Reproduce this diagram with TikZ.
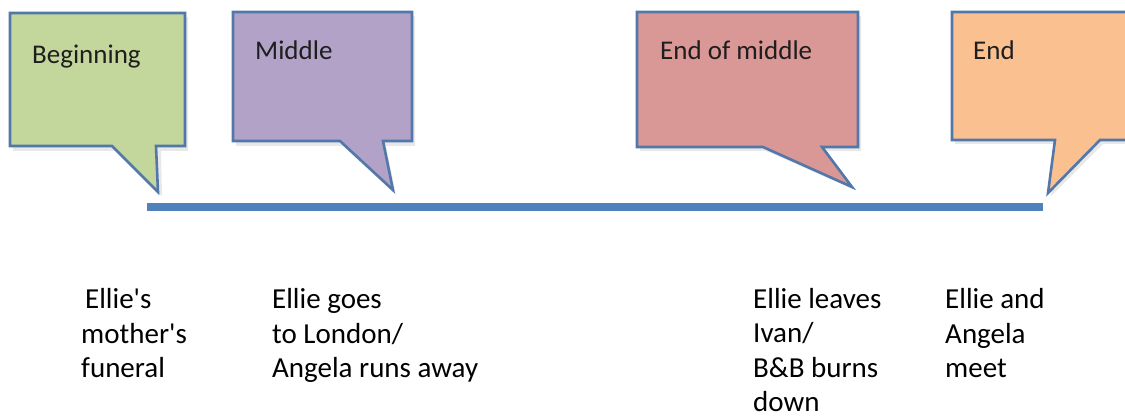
\documentclass[tikz,border=0pt]{standalone}
\usepackage{fontspec}
\setmainfont{Carlito}
\definecolor{cgreen}{HTML}{C3D69B}
\definecolor{cpurple}{HTML}{B3A2C7}
\definecolor{cred}{HTML}{D99795}
\definecolor{corange}{HTML}{FAC090}
\definecolor{cborder}{HTML}{5277AA}
\definecolor{cline}{HTML}{4F81BD}
\definecolor{ctext}{HTML}{1E1E1E}
\begin{document}
\begin{tikzpicture}[x=1pt,y=-1pt,
  callout/.style={draw=cborder,line width=2.6pt,line join=miter},
  shade/.style={fill=black,opacity=0.09},
  head/.style={anchor=base west,inner sep=0pt,text=ctext,font=\fontsize{27}{32}\selectfont},
  event/.style={anchor=base west,inner sep=0pt,align=left,text=black,font=\fontsize{29}{34.5}\selectfont}]
\useasboundingbox (0,0) rectangle (1125,419);
\begin{scope}
\clip (0,0) rectangle (1125,419);
% shadows
\fill[shade] (13,17) -- (188,17) -- (188,151) -- (161,151) -- (162,196) -- (116,151) -- (13,151) -- cycle;
\fill[shade] (236,16) -- (415,16) -- (415,146) -- (386,146) -- (396,195) -- (343,146) -- (236,146) -- cycle;
\fill[shade] (640,16) -- (861,16) -- (861,151) -- (825,151) -- (855,190) -- (766,151) -- (640,151) -- cycle;
\fill[shade] (955,16) -- (1140,16) -- (1140,144) -- (1103,144) -- (1051,196) -- (1058,144) -- (955,144) -- cycle;
% callouts
\draw[callout,fill=cgreen] (10,13) -- (185,13) -- (185,146) -- (156,146) -- (158,192) -- (112,146) -- (10,146) -- cycle;
\draw[callout,fill=cpurple] (233,12) -- (412,12) -- (412,141) -- (383,141) -- (393,190) -- (340,141) -- (233,141) -- cycle;
\draw[callout,fill=cred] (637,12) -- (858,12) -- (858,147) -- (822,147) -- (852,187) -- (763,147) -- (637,147) -- cycle;
\draw[callout,fill=corange] (952,12) -- (1137,12) -- (1137,140) -- (1100,140) -- (1048,193) -- (1055,140) -- (952,140) -- cycle;
\end{scope}
\node[head] (hbeg) at (32,64) {Beginning};
\node[head] (hmid) at (255,60) {Middle};
\node[head] (heom) at (660,60) {End of middle};
\node[head] (hend) at (973,60) {End};
% timeline
\coordinate (tl0) at (147,207);
\coordinate (tl1) at (1043,207);
\draw[cline,line width=8.5pt] (tl0) -- (tl1);
% events (anchored at the baseline of the last line)
\node[event] (e1) at (81,378) {\hspace*{4pt}Ellie\textquotesingle s\\mother\textquotesingle s\\funeral};
\node[event] (e2) at (272,378) {Ellie goes\\to London/\\Angela runs away};
\node[event] (e3) at (753,412) {Ellie leaves\\Ivan/\\B\&B burns\\down};
\node[event] (e4) at (945,378) {Ellie and\\Angela\\meet};
\end{tikzpicture}
\end{document}
